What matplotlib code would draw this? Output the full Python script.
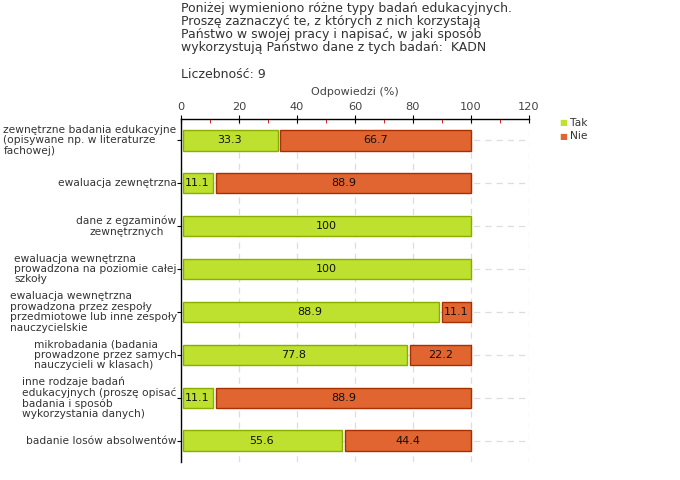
import matplotlib
matplotlib.use("Agg")
import matplotlib.pyplot as plt
import numpy as np
from matplotlib.ticker import MultipleLocator

categories = [
    "zewnętrzne badania edukacyjne\n(opisywane np. w literaturze\nfachowej)",
    "ewaluacja zewnętrzna",
    "dane z egzaminów\nzewnętrznych",
    "ewaluacja wewnętrzna\nprowadzona na poziomie całej\nszkoły",
    "ewaluacja wewnętrzna\nprowadzona przez zespoły\nprzedmiotowe lub inne zespoły\nnauczycielskie",
    "mikrobadania (badania\nprowadzone przez samych\nnauczycieli w klasach)",
    "inne rodzaje badań\nedukacyjnych (proszę opisać\nbadania i sposób\nwykorzystania danych)",
    "badanie losów absolwentów",
]
tak = [33.3, 11.1, 100, 100, 88.9, 77.8, 11.1, 55.6]
nie = [66.7, 88.9, 0, 0, 11.1, 22.2, 88.9, 44.4]
aligns = ["left", "left", "center", "left", "left", "left", "left", "left"]

title = ("Poniżej wymieniono różne typy badań edukacyjnych.\n"
         "Proszę zaznaczyć te, z których z nich korzystają\n"
         "Państwo w swojej pracy i napisać, w jaki sposób\n"
         "wykorzystują Państwo dane z tych badań:  KADN")
count_text = "Liczebność: 9"

green, green_edge = "#BEE02E", "#8AAE00"
orange, orange_edge = "#E06530", "#A83000"
txt = "#333333"

fig = plt.figure(figsize=(6.8, 4.8), dpi=100)
ax = fig.add_axes([181/680, 1-462/480, 348/680, 343/480])

y = np.arange(len(categories))
gap = 1.0
h = 0.47
for i in range(len(categories)):
    if tak[i] > 0:
        ax.barh(y[i], tak[i] - 0.6, left=0.6, height=h, color=green, edgecolor=green_edge, linewidth=1, zorder=3)
        ax.text(tak[i] / 2, y[i], f"{tak[i]:g}" if tak[i] == 100 else f"{tak[i]:.1f}",
                ha="center", va="center", fontsize=8, color="#111111", zorder=4)
    if nie[i] > 0:
        ax.barh(y[i], nie[i] - gap, left=tak[i] + gap, height=h, color=orange, edgecolor=orange_edge, linewidth=1, zorder=3)
        ax.text(tak[i] + (nie[i] + gap) / 2, y[i], f"{nie[i]:.1f}",
                ha="center", va="center", fontsize=8, color="#111111", zorder=4)

ax.set_xlim(0, 120)
ax.set_ylim(len(categories) - 0.5, -0.5)
ax.xaxis.set_major_locator(MultipleLocator(20))
ax.xaxis.set_minor_locator(MultipleLocator(10))
ax.xaxis.tick_top()
ax.xaxis.set_label_position("top")
ax.tick_params(axis="x", which="major", direction="inout", length=6, color="black",
               labelsize=8.2, labelcolor="#444444", pad=2)
ax.tick_params(axis="x", which="minor", direction="in", length=3, color="#dd0000")
ax.set_xlabel("Odpowiedzi (%)", fontsize=8, color="#444444", labelpad=5)

ax.set_yticks(y)
ax.set_yticklabels([])
ax.tick_params(axis="y", direction="out", length=3, color="black")
for i, lab in enumerate(categories):
    ax.text(-1.5, y[i], lab, ha="right", va="center", multialignment=aligns[i],
            fontsize=7.7, color=txt, linespacing=1.05, transform=ax.transData)

for s in ["right", "bottom"]:
    ax.spines[s].set_visible(False)
for s in ["left", "top"]:
    ax.spines[s].set_color("black")
    ax.spines[s].set_linewidth(1)

ax.grid(True, axis="both", which="major", linestyle=(0, (5, 4)), color="#dddddd", linewidth=0.9, zorder=0)
ax.set_axisbelow(True)

fig.text(181/680, 1-2/480, title, ha="left", va="top", fontsize=9, color=txt, linespacing=1.0)
fig.text(181/680, 1-68/480, count_text, ha="left", va="top", fontsize=9, color=txt)

fig.text(559/680, 1-123/480, "■", ha="left", va="center", fontsize=6, color=green)
fig.text(570/680, 1-123/480, "Tak", ha="left", va="center", fontsize=7.7, color=txt)
fig.text(559/680, 1-136/480, "■", ha="left", va="center", fontsize=6, color=orange)
fig.text(570/680, 1-136/480, "Nie", ha="left", va="center", fontsize=7.7, color=txt)

fig.savefig("out.png", dpi=100)
